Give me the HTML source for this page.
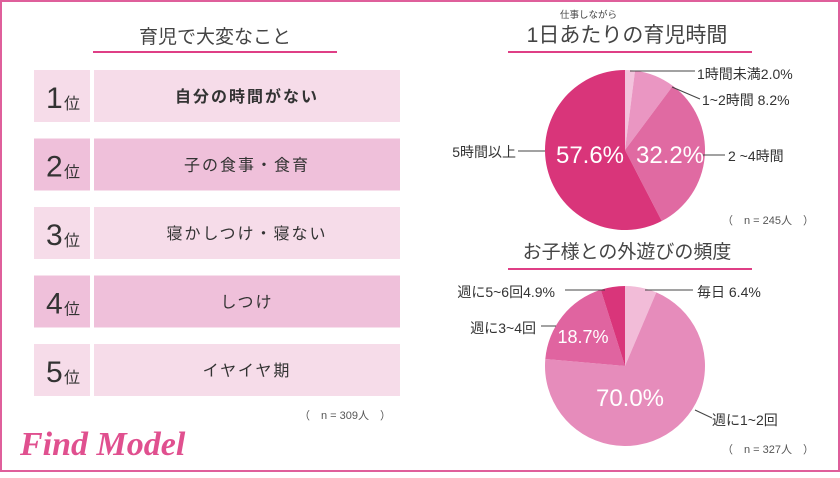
<!DOCTYPE html>
<html><head><meta charset="utf-8"><style>
html,body{margin:0;padding:0;background:#fff}
body{width:840px;height:473px;overflow:hidden;font-family:"Liberation Sans","Noto Sans CJK JP",sans-serif}
svg text{font-family:"Liberation Sans","Noto Sans CJK JP",sans-serif}
</style></head><body>
<svg id="chart" width="840" height="473" viewBox="0 0 840 473">
<rect x="1" y="1" width="838" height="470" fill="#fff" stroke="#df5f9b" stroke-width="2"/>
<text x="215" y="43" font-size="19" fill="#444" text-anchor="middle">育児で大変なこと</text>
<rect x="93" y="51" width="244" height="2" fill="#df3f86"/>
<g id="ranks"></g>
<text x="345" y="419" font-size="11" fill="#555" text-anchor="middle">（　n = 309人　）</text>
<text x="20" y="455" font-size="34" font-style="italic" font-weight="bold" fill="#e0508f" font-family="Liberation Serif, serif" style="font-family:'Liberation Serif',serif">Find Model</text>

<text x="560" y="18" font-size="9.5" fill="#444">仕事しながら</text>
<text x="627" y="42" font-size="21" fill="#444" text-anchor="middle">1日あたりの育児時間</text>
<rect x="508" y="51" width="244" height="2" fill="#df3f86"/>
<g id="pie1"></g>
<text x="768" y="224" font-size="11" fill="#555" text-anchor="middle">（　n = 245人　）</text>

<text x="627" y="258" font-size="19" fill="#444" text-anchor="middle">お子様との外遊びの頻度</text>
<rect x="508" y="268" width="244" height="2" fill="#df3f86"/>
<g id="pie2"></g>
<text x="768" y="453" font-size="11" fill="#555" text-anchor="middle">（　n = 327人　）</text>
</svg>
<script>
const rankLabels=["自分の時間がない","子の食事・食育","寝かしつけ・寝ない","しつけ","イヤイヤ期"];
const pie1Labels=["1時間未満","1~2時間","2 ~4時間","5時間以上"];
const pie1Values=[2.0,8.2,32.2,57.6];
const pie2Labels=["毎日","週に1~2回","週に3~4回","週に5~6回"];
const pie2Values=[6.4,70.0,18.7,4.9];

const NS="http://www.w3.org/2000/svg";
function mk(tag,attrs,parent,text){const e=document.createElementNS(NS,tag);for(const k in attrs)e.setAttribute(k,attrs[k]);if(text!==undefined)e.textContent=text;parent.appendChild(e);return e;}

const rg=document.getElementById('ranks');
rankLabels.forEach((lab,i)=>{
  const y=70+i*68.5, fill=i%2?"#efc0da":"#f6dce9";
  const a=mk('rect',{x:34,y:y,width:56,height:52,fill:fill},rg);
  
  
  const b=mk('rect',{x:94,y:y,width:306,height:52,fill:fill},rg);
  
  
  const n=mk('text',{x:46,y:y+38,'font-size':30,fill:'#333'},rg,String(i+1));
  
  
  const p=mk('text',{x:64,y:y+39,'font-size':16,fill:'#333'},rg,"位");
  
  
  const t=mk('text',{x:247,y:y+32,'font-size':16,fill:'#333','text-anchor':'middle','letter-spacing':'2','font-weight':i==0?'bold':'normal'},rg,lab);
  
  
});

function pt(cx,cy,r,f){const a=f*2*Math.PI-Math.PI/2;return [cx+r*Math.cos(a),cy+r*Math.sin(a)];}
function drawPie(g,vals,cols,cx,cy,r,name){
  const tot=vals.reduce((s,v)=>s+v,0);let acc=0;
  vals.forEach((v,i)=>{
    const f0=acc/tot,f1=(acc+v)/tot;acc+=v;
    const p0=pt(cx,cy,r,f0),p1=pt(cx,cy,r,f1);
    const s=mk('path',{d:`M${cx},${cy}L${p0[0]},${p0[1]}A${r},${r} 0 ${f1-f0>0.5?1:0} 1 ${p1[0]},${p1[1]}Z`,fill:cols[i]},g);
    
    
  });
}
function line(g,pts,name){const l=mk('polyline',{points:pts.map(p=>p.join(',')).join(' '),fill:'none',stroke:'#444','stroke-width':1},g);
  
  }
function label(g,x,y,txt,size,fill,anchor,name){const t=mk('text',{x:x,y:y,'font-size':size,fill:fill,'text-anchor':anchor||'start'},g,txt);
  
  return t;}
function fmt(v){return v.toFixed(1);}

const g1=document.getElementById('pie1');
drawPie(g1,pie1Values,["#f3c3dd","#ea96c2","#e06aa2","#d9357a"],625,150,80,'pie1');
line(g1,[[630,71],[695,71]],'pie1-leader-0');
line(g1,[[672,87],[700,99]],'pie1-leader-1');
line(g1,[[703,155],[725,155]],'pie1-leader-2');
line(g1,[[518,151],[545,151]],'pie1-leader-3');
label(g1,697,79,pie1Labels[0]+fmt(pie1Values[0])+"%",14,'#333','start','pie1-label-0');
label(g1,702,105,pie1Labels[1]+" "+fmt(pie1Values[1])+"%",14,'#333','start','pie1-label-1');
label(g1,728,161,pie1Labels[2],14,'#333','start','pie1-label-2');
label(g1,516,157,pie1Labels[3],14,'#333','end','pie1-label-3');
label(g1,590,163,fmt(pie1Values[3])+"%",24,'#fff','middle','pie1-value-3');
label(g1,670,163,fmt(pie1Values[2])+"%",24,'#fff','middle','pie1-value-2');

const g2=document.getElementById('pie2');
drawPie(g2,pie2Values,["#f2bcd8","#e68cbb","#e064a0","#d9357a"],625,366,80,'pie2');
line(g2,[[645,290],[693,290]],'pie2-leader-0');
line(g2,[[695,410],[712,418]],'pie2-leader-1');
line(g2,[[541,326],[556,326]],'pie2-leader-2');
line(g2,[[565,290],[605,290]],'pie2-leader-3');
label(g2,697,297,pie2Labels[0]+" "+fmt(pie2Values[0])+"%",14,'#333','start','pie2-label-0');
label(g2,712,425,pie2Labels[1],14,'#333','start','pie2-label-1');
label(g2,536,333,pie2Labels[2],14,'#333','end','pie2-label-2');
label(g2,555,297,pie2Labels[3]+fmt(pie2Values[3])+"%",14,'#333','end','pie2-label-3');
label(g2,630,406,fmt(pie2Values[1])+"%",24,'#fff','middle','pie2-value-1');
label(g2,583,343,fmt(pie2Values[2])+"%",18,'#fff','middle','pie2-value-2');
</script>
</body></html>
